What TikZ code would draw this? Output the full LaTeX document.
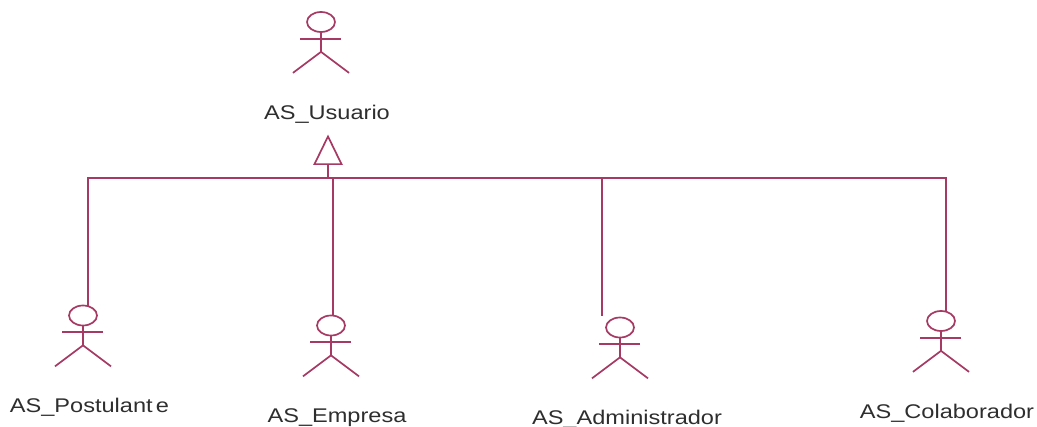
\documentclass[tikz,border=0pt]{standalone}
\usepackage{fontspec}
\setmainfont{Liberation Sans}
\newfontfamily\labelfont[FakeStretch=1.19]{Liberation Sans}
\usetikzlibrary{shapes.geometric,calc}
\definecolor{umlred}{HTML}{A63A62}
\definecolor{labelgray}{HTML}{2E2E2E}
\tikzset{
  umlline/.style={draw=umlred,line width=1.9pt},
  stickline/.style={draw=umlred,line width=1.7pt},
  headnode/.style={ellipse,draw=umlred,line width=1.7pt,minimum width=28pt,minimum height=20pt,inner sep=0pt},
  actorlabel/.style={text=labelgray,font=\labelfont\fontsize{19.8}{22}\selectfont,inner sep=0pt,anchor=center},
}
% #1 name, #2 head x, #3 head y, #4 label x, #5 label y, #6 text
\newcommand{\umlactor}[6]{%
  \node[headnode] (#1) at (#2,#3) {};
  \draw[stickline] (#1.south) -- ++(0,19) coordinate (#1hip);
  \draw[stickline] ($(#1.south)+(-21,6)$) -- ++(41,0);
  \draw[stickline] ($(#1hip)+(-28,21)$) -- (#1hip) -- ++(28,21);
  \node[actorlabel] (#1label) at (#4,#5) {#6};
}
\begin{document}
\begin{tikzpicture}[x=1pt,y=-1pt]
\useasboundingbox (0,0) rectangle (1037,427);
\umlactor{usuario}{321}{22}{327}{114}{AS\_Usuario}
\umlactor{postulante}{83}{315.5}{89.5}{407}{AS\_Postulant\,e}
\umlactor{empresa}{331}{325.5}{337}{418}{AS\_Empresa}
\umlactor{administrador}{620}{327.5}{627}{419}{AS\_Administrador}
\umlactor{colaborador}{941}{321}{947}{413}{AS\_Colaborador}
\node[isosceles triangle,isosceles triangle apex angle=52,shape border rotate=90,draw=umlred,line width=1.7pt,fill=white,minimum height=27pt,minimum width=27pt,inner sep=0pt,anchor=apex] (gen) at (328,134.5) {};
\coordinate (busleft) at (88,178);
\coordinate (busright) at (946,178);
\coordinate (busstem) at (gen.south |- busleft);
\coordinate (busemp) at (333,178);
\coordinate (busadm) at (602,178);
\coordinate (admend) at (602,316);
\coordinate (posend) at (88,306.5);
\coordinate (colend) at (946,312);
\coordinate (empend) at (333,316);
\draw[umlline] (gen.south) -- (busstem);
\draw[umlline] (posend) -- (busleft) -- (busright) -- (colend);
\draw[umlline] (busemp) -- (empend);
\draw[umlline] (busadm) -- (admend);
\end{tikzpicture}
\end{document}
